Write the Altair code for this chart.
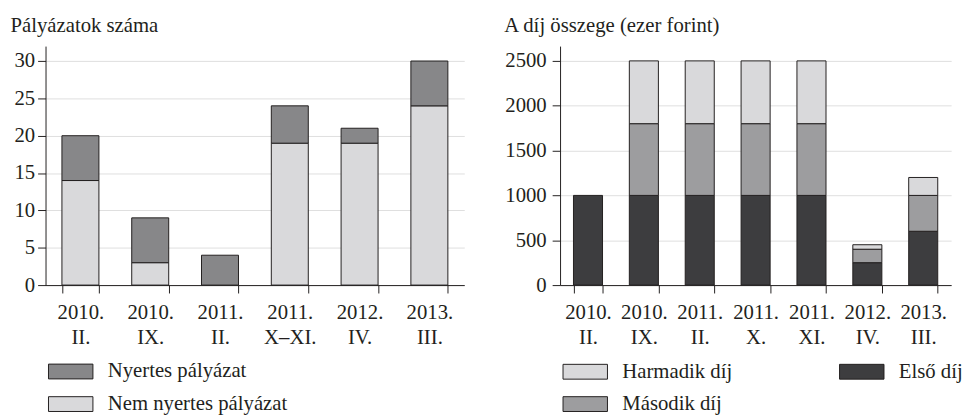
import altair as alt
import pandas as pd

# ---- data ----
left_categories = ["2010. II.", "2010. IX.", "2011. II.", "2011. X–XI.", "2012. IV.", "2013. III."]
nem_nyertes = [14, 3, 0, 19, 19, 24]
nyertes = [6, 6, 4, 5, 2, 6]
left_series = ["Nyertes pályázat", "Nem nyertes pályázat"]

right_categories = ["2010. II.", "2010. IX.", "2011. II.", "2011. X.", "2011. XI.", "2012. IV.", "2013. III."]
elso = [1000, 1000, 1000, 1000, 1000, 250, 600]
masodik = [0, 800, 800, 800, 800, 150, 400]
harmadik = [0, 700, 700, 700, 700, 50, 200]
right_series = ["Harmadik díj", "Első díj", "Második díj"]

left_ticks = [0, 5, 10, 15, 20, 25, 30]
right_ticks = [0, 500, 1000, 1500, 2000, 2500]

# ---- long tables ----
rows = []
for c, a, b in zip(left_categories, nem_nyertes, nyertes):
    if a > 0:
        rows.append({"kat": c, "sor": "Nem nyertes pályázat", "ertek": a, "rend": 0})
    if b > 0:
        rows.append({"kat": c, "sor": "Nyertes pályázat", "ertek": b, "rend": 1})
left_df = pd.DataFrame(rows)

rows = []
for c, e, m, h in zip(right_categories, elso, masodik, harmadik):
    for name, v, r in (("Első díj", e, 0), ("Második díj", m, 1), ("Harmadik díj", h, 2)):
        if v > 0:
            rows.append({"kat": c, "sor": name, "ertek": v, "rend": r})
right_df = pd.DataFrame(rows)

FONT = "Liberation Serif"
TXT = "#231f20"
FS = 21
SYM = "M-1,-1H5V1H-1Z"


def xaxis():
    return alt.Axis(labelExpr="split(datum.label, ' ')", labelAngle=0, tickBand="extent",
                    grid=False, labelLineHeight=25, labelPadding=9, tickSize=8,
                    labelBaseline="top")


left = alt.Chart(left_df).mark_bar(stroke=TXT, strokeWidth=1).encode(
    x=alt.X("kat:N", sort=left_categories, title=None,
            scale=alt.Scale(paddingInner=0.47, paddingOuter=0.235), axis=xaxis()),
    y=alt.Y("ertek:Q", stack="zero", scale=alt.Scale(domain=[0, 32], nice=False),
            axis=alt.Axis(values=left_ticks, format="d", title="Pályázatok száma", titleAngle=0,
                          titleAlign="left", titleBaseline="alphabetic", titleX=-36,
                          titleY=-15, tickSize=8, labelPadding=3, grid=True)),
    color=alt.Color("sor:N", scale=alt.Scale(domain=left_series, range=["#878789", "#d9d9db"]),
                    legend=alt.Legend(title=None, orient="none", legendX=0, legendY=319,
                                      direction="vertical", symbolType=SYM, symbolSize=225,
                                      symbolStrokeColor=TXT, symbolStrokeWidth=1,
                                      symbolOpacity=1, labelOffset=42, rowPadding=11,
                                      padding=0)),
    order=alt.Order("rend:Q"),
).properties(width=424, height=242)

right = alt.Chart(right_df).mark_bar(stroke=TXT, strokeWidth=1).encode(
    x=alt.X("kat:N", sort=right_categories, title=None,
            scale=alt.Scale(paddingInner=0.48, paddingOuter=0.24), axis=xaxis()),
    y=alt.Y("ertek:Q", stack="zero", scale=alt.Scale(domain=[0, 2665], nice=False),
            axis=alt.Axis(values=right_ticks, format="d", title="A díj összege (ezer forint)",
                          titleAngle=0, titleAlign="left", titleBaseline="alphabetic",
                          titleX=-57, titleY=-15, tickSize=8, labelPadding=6, grid=True)),
    color=alt.Color("sor:N", scale=alt.Scale(domain=right_series,
                                             range=["#d9d9db", "#3d3d3f", "#9d9d9f"]),
                    legend=alt.Legend(title=None, orient="none", legendX=0, legendY=319,
                                      direction="horizontal", columns=2, columnPadding=105,
                                      symbolType=SYM, symbolSize=225,
                                      symbolStrokeColor=TXT, symbolStrokeWidth=1,
                                      symbolOpacity=1, labelOffset=42, rowPadding=11,
                                      padding=0)),
    order=alt.Order("rend:Q"),
).properties(width=396, height=242)

chart = alt.hconcat(left, right, spacing=40).resolve_scale(
    x="independent", y="independent", color="independent"
).properties(
    padding={"left": 2, "top": 4, "right": 0, "bottom": 0}
).configure_view(stroke=None).configure_axis(
    labelFont=FONT, titleFont=FONT, labelFontSize=FS, titleFontSize=FS,
    labelColor=TXT, titleColor=TXT, domainColor=TXT, tickColor=TXT,
    gridColor="#dedede", gridWidth=1, titleFontWeight="normal", domainWidth=1, tickWidth=1
).configure_legend(
    labelFont=FONT, labelFontSize=FS, labelColor=TXT, labelLimit=300
)

chart.save("out.html", embed_options={"renderer": "svg", "actions": False})
